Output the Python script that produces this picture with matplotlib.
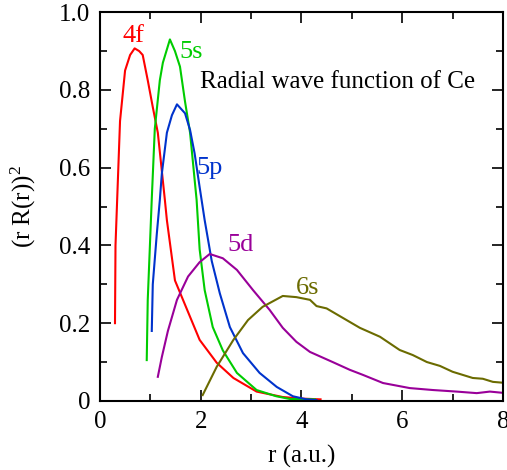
import matplotlib
matplotlib.use("Agg")
import matplotlib.pyplot as plt
import numpy as np

plt.rcParams['font.family'] = ['Liberation Serif', 'DejaVu Serif']
plt.rcParams['mathtext.default'] = 'regular'

# (r R(r))^2 for the Ce orbitals, r in atomic units
r_4f = [0.30, 0.31, 0.40, 0.50, 0.60, 0.69, 0.78, 0.85, 0.95, 1.05, 1.15, 1.29, 1.33,
        1.49, 1.65, 1.98, 2.32, 2.65, 3.11, 3.63, 4.00, 4.38]
p_4f = [0.20, 0.40, 0.72, 0.85, 0.89, 0.907, 0.90, 0.89, 0.825, 0.756, 0.69, 0.517, 0.465,
        0.31, 0.26, 0.157, 0.098, 0.059, 0.024, 0.010, 0.006, 0.004]

r_5s = [0.93, 0.95, 1.03, 1.09, 1.19, 1.25, 1.39, 1.49, 1.59, 1.69, 1.79, 1.88, 1.92,
        1.98, 2.08, 2.24, 2.44, 2.72, 3.11, 3.50, 3.77, 4.27]
p_5s = [0.105, 0.26, 0.52, 0.70, 0.825, 0.87, 0.93, 0.90, 0.86, 0.77, 0.69, 0.57, 0.517,
        0.39, 0.285, 0.19, 0.13, 0.072, 0.028, 0.012, 0.005, 0.004]

r_5p = [1.03, 1.05, 1.13, 1.19, 1.23, 1.33, 1.43, 1.53, 1.69, 1.79, 1.88, 1.98, 2.08,
        2.22, 2.38, 2.58, 2.84, 3.17, 3.51, 3.83, 4.10, 4.30]
p_5p = [0.18, 0.30, 0.43, 0.517, 0.585, 0.69, 0.735, 0.763, 0.74, 0.697, 0.637, 0.55, 0.465,
        0.36, 0.277, 0.19, 0.123, 0.072, 0.036, 0.012, 0.004, 0.002]

r_5d = [1.15, 1.23, 1.35, 1.53, 1.75, 1.98, 2.18, 2.44, 2.72, 3.04, 3.37, 3.63, 3.90,
        4.17, 4.62, 4.96, 5.22, 5.62, 6.15, 6.61, 7.08, 7.48, 7.74, 7.98]
p_5d = [0.062, 0.113, 0.18, 0.26, 0.32, 0.357, 0.378, 0.367, 0.337, 0.285, 0.234, 0.188, 0.152,
        0.126, 0.10, 0.08, 0.067, 0.046, 0.033, 0.028, 0.024, 0.020, 0.024, 0.021]

r_6s = [2.04, 2.32, 2.65, 2.94, 3.23, 3.63, 3.90, 4.17, 4.30, 4.50, 4.83, 5.16, 5.56,
        5.95, 6.21, 6.49, 6.75, 7.00, 7.40, 7.60, 7.80, 7.98]
p_6s = [0.015, 0.088, 0.157, 0.208, 0.242, 0.27, 0.267, 0.26, 0.244, 0.238, 0.213, 0.188, 0.165,
        0.131, 0.118, 0.10, 0.09, 0.075, 0.059, 0.057, 0.049, 0.047]

orbitals = ['4f', '5s', '5p', '5d', '6s']
colors = ['#ff0000', '#00cc00', '#0033cc', '#990099', '#6b6b00']
label_xy = [(0.67, 0.94), (1.81, 0.897), (2.18, 0.60), (2.80, 0.40), (4.13, 0.29)]

fig = plt.figure(figsize=(5.07, 4.70), dpi=100)
ax = fig.add_axes([0.197, 0.147, 0.795, 0.827])

curves = [(r_4f, p_4f), (r_5s, p_5s), (r_5p, p_5p), (r_5d, p_5d), (r_6s, p_6s)]
for (r, p), name, c, (lx, ly) in zip(curves, orbitals, colors, label_xy):
    ax.plot(r, p, color=c, lw=1.5)
    ax.text(lx, ly, name, color=c, fontsize=19, ha='center', va='center')

ax.text(1.98, 0.805, 'Radial wave function of Ce', fontsize=18, ha='left', va='baseline')

ax.set_xlim(0, 8)
ax.set_ylim(0, 1)
ax.set_xticks([0, 2, 4, 6, 8])
ax.set_xticks([1, 3, 5, 7], minor=True)
ax.set_yticks([0, 0.2, 0.4, 0.6, 0.8, 1.0])
ax.set_yticklabels(['0', '0.2', '0.4', '0.6', '0.8', '1.0'])
ax.set_yticks(np.arange(0.1, 1.0, 0.2), minor=True)
ax.tick_params(which='both', direction='in', top=True, right=True, labelsize=18, width=1.2)
ax.tick_params(which='major', length=8, pad=7)
ax.tick_params(which='minor', length=5)
for s in ax.spines.values():
    s.set_linewidth(1.5)

ax.set_xlabel('r (a.u.)', fontsize=18, labelpad=9)
ax.set_ylabel('(r R(r))$^{2}$', fontsize=18, labelpad=15)

fig.savefig('out.png', dpi=100)
